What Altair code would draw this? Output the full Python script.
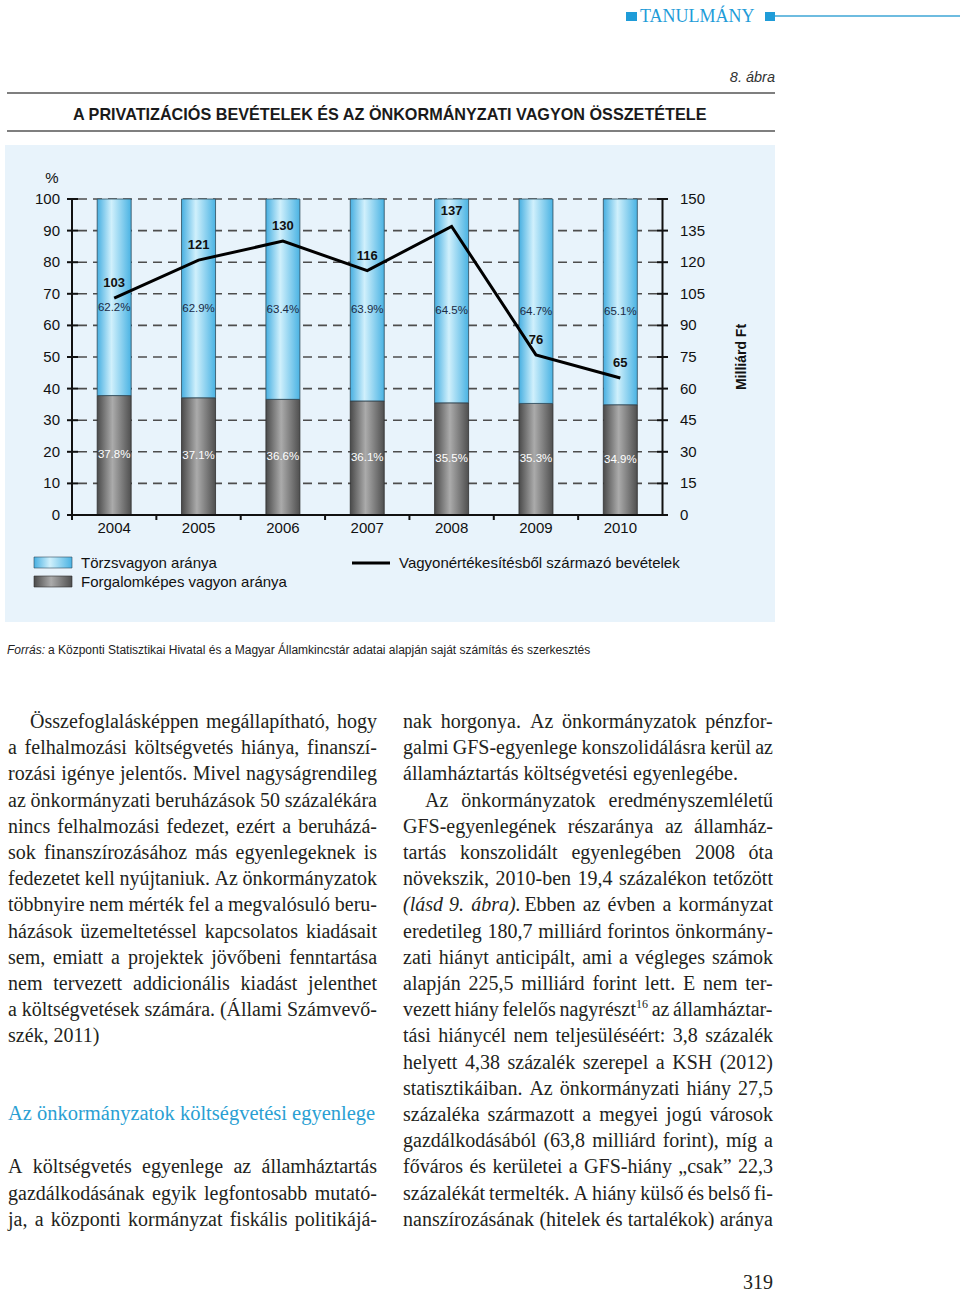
import unicodedata
import altair as alt
import pandas as pd

# ---------------- data ----------------
YEARS = ["2004", "2005", "2006", "2007", "2008", "2009", "2010"]
TORZS = [62.2, 62.9, 63.4, 63.9, 64.5, 64.7, 65.1]          # Törzsvagyon aránya (%)
FORG = [37.8, 37.1, 36.6, 36.1, 35.5, 35.3, 34.9]           # Forgalomképes vagyon aránya (%)
BEVETEL = [103, 121, 130, 116, 137, 76, 65]                 # Vagyonértékesítésből származó bevételek (Mrd Ft)
LEFT_TICKS = [0, 10, 20, 30, 40, 50, 60, 70, 80, 90, 100]
RIGHT_TICKS = [0, 15, 30, 45, 60, 75, 90, 105, 120, 135, 150]

HEADER = "TANULMÁNY"
FIG_NO = "8. ábra"
TITLE = "A PRIVATIZÁCIÓS BEVÉTELEK ÉS AZ ÖNKORMÁNYZATI VAGYON ÖSSZETÉTELE"
LEG_BLUE = "Törzsvagyon aránya"
LEG_GRAY = "Forgalomképes vagyon aránya"
LEG_LINE = "Vagyonértékesítésből származó bevételek"
UNIT_LEFT = "%"
UNIT_RIGHT = "Milliárd Ft"
SOURCE_LABEL = "Forrás:"
SOURCE_TEXT = "a Központi Statisztikai Hivatal és a Magyar Államkincstár adatai alapján saját számítás és szerkesztés"

LEFT_TEXT = [
    "Összefoglalásképpen megállapítható, hogy",
    "a felhalmozási költségvetés hiánya, finanszí-",
    "rozási igénye jelentős. Mivel nagyságrendileg",
    "az önkormányzati beruházások 50 százalékára",
    "nincs felhalmozási fedezet, ezért a beruházá-",
    "sok finanszírozásához más egyenlegeknek is",
    "fedezetet kell nyújtaniuk. Az önkormányzatok",
    "többnyire nem mérték fel a megvalósuló beru-",
    "házások üzemeltetéssel kapcsolatos kiadásait",
    "sem, emiatt a projektek jövőbeni fenntartása",
    "nem tervezett addicionális kiadást jelenthet",
    "a költségvetések számára. (Állami Számvevő-",
    "szék, 2011)",
]
HEADING = "Az önkormányzatok költségvetési egyenlege"
LEFT_TEXT2 = [
    "A költségvetés egyenlege az államháztartás",
    "gazdálkodásának egyik legfontosabb mutató-",
    "ja, a központi kormányzat fiskális politikájá-",
]
RIGHT_TEXT = [
    "nak horgonya. Az önkormányzatok pénzfor-",
    "galmi GFS-egyenlege konszolidálásra kerül az",
    "államháztartás költségvetési egyenlegébe.",
    "Az önkormányzatok eredményszemléletű",
    "GFS-egyenlegének részaránya az államház-",
    "tartás konszolidált egyenlegében 2008 óta",
    "növekszik, 2010-ben 19,4 százalékon tetőzött",
    "(lásd 9. ábra). Ebben az évben a kormányzat",
    "eredetileg 180,7 milliárd forintos önkormány-",
    "zati hiányt anticipált, ami a végleges számok",
    "alapján 225,5 milliárd forint lett. E nem ter-",
    "vezett hiány felelős nagyrészt¹⁶ az államháztar-",
    "tási hiánycél nem teljesüléséért: 3,8 százalék",
    "helyett 4,38 százalék szerepel a KSH (2012)",
    "statisztikáiban. Az önkormányzati hiány 27,5",
    "százaléka származott a megyei jogú városok",
    "gazdálkodásából (63,8 milliárd forint), míg a",
    "főváros és kerületei a GFS-hiány „csak” 22,3",
    "százalékát termelték. A hiány külső és belső fi-",
    "nanszírozásának (hitelek és tartalékok) aránya",
]
ITALIC_SPANS = ["(lásd 9. ábra)."]
PAGE_NO = "319"

# ---------------- styles ----------------
SANS = "Liberation Sans, Arial, sans-serif"
NARROW = "Liberation Sans Narrow, Arial Narrow, Liberation Sans, sans-serif"
SERIF = "Liberation Serif, Times New Roman, serif"
INK = "#231f20"
CYAN = "#1f9cd8"

X_RANGE = [72, 662.5]
Y_RANGE = [515, 199]
xband = alt.Scale(type="band", domain=YEARS, range=X_RANGE, paddingInner=0.597, paddingOuter=0.2985)
xstep = alt.Scale(type="band", domain=YEARS, range=X_RANGE, paddingInner=0, paddingOuter=0)
ypct = alt.Scale(domain=[0, 100], range=Y_RANGE, nice=False, zero=False)
ymft = alt.Scale(domain=[0, 150], range=Y_RANGE, nice=False, zero=False)

BLUE_GRAD = alt.LinearGradient(
    gradient="linear", x1=0, x2=1, y1=0, y2=0,
    stops=[alt.GradientStop(color="#47afe1", offset=0),
           alt.GradientStop(color="#d0f0fc", offset=0.42),
           alt.GradientStop(color="#4ab3e3", offset=1)])
GRAY_GRAD = alt.LinearGradient(
    gradient="linear", x1=0, x2=1, y1=0, y2=0,
    stops=[alt.GradientStop(color="#4a4a4a", offset=0),
           alt.GradientStop(color="#ababab", offset=0.45),
           alt.GradientStop(color="#4f4f4f", offset=1)])

# ---------------- text metrics (Times-compatible) ----------------
TW = {" ": 250, ",": 250, ".": 250, "-": 333, ":": 278, ";": 278, "(": 333, ")": 333,
      "„": 444, "”": 444, "%": 833,
      "A": 722, "B": 667, "C": 667, "D": 722, "E": 611, "F": 556, "G": 722, "H": 722, "I": 333,
      "J": 389, "K": 722, "L": 611, "M": 889, "N": 722, "O": 722, "P": 556, "Q": 722, "R": 667,
      "S": 556, "T": 611, "U": 722, "V": 722, "W": 944, "X": 722, "Y": 722, "Z": 611,
      "a": 444, "b": 500, "c": 444, "d": 500, "e": 444, "f": 333, "g": 500, "h": 500, "i": 278,
      "j": 278, "k": 500, "l": 278, "m": 778, "n": 500, "o": 500, "p": 500, "q": 500, "r": 333,
      "s": 389, "t": 278, "u": 500, "v": 500, "w": 722, "x": 500, "y": 500, "z": 444}
SUP = {"¹": "1", "²": "2", "³": "3", "⁴": "4", "⁵": "5", "⁶": "6", "⁷": "7", "⁸": "8", "⁹": "9", "⁰": "0"}


def char_w(c):
    if c in TW:
        return TW[c]
    base = unicodedata.normalize("NFD", c)[0]
    return TW.get(base, 500)


def layout(lines, x0, x1, y0, lh, fs, last=(), indent=(), ind_px=22):
    roman, ital, sup = [], [], []
    for k, line in enumerate(lines):
        y = y0 + k * lh
        ranges = []
        for sp in ITALIC_SPANS:
            i = line.find(sp)
            if i >= 0:
                ranges.append((i, i + len(sp)))
        words, pos = [], 0
        for w in line.split(" "):
            start = line.index(w, pos)
            pos = start + len(w)
            it = any(a <= start < b for a, b in ranges)
            main = "".join(c for c in w if c not in SUP)
            sp = "".join(SUP[c] for c in w if c in SUP)
            wm = sum(char_w(c) for c in main) * fs / 1000
            ws = sum(char_w(c) for c in sp) * fs * 0.6 / 1000
            words.append((main, sp, it, wm, ws))
        xs = x0 + (ind_px if k in indent else 0)
        total = sum(a[3] + a[4] for a in words)
        if k not in last and len(words) > 1:
            gap = max((x1 - xs - total) / (len(words) - 1), 0.15 * fs)
        else:
            gap = 0.25 * fs
        x = xs
        for main, sp, it, wm, ws in words:
            (ital if it else roman).append((main, round(x, 1), y))
            if sp:
                sup.append((sp, round(x + wm, 1), y - 8))
            x += wm + ws + gap
    return roman, ital, sup


def text_layer(rows, **props):
    d = pd.DataFrame(rows, columns=["t", "x", "y"])
    return alt.Chart(d).mark_text(**props).encode(
        x=alt.X("x:Q", scale=None, axis=None),
        y=alt.Y("y:Q", scale=None, axis=None),
        text="t:N")


def box(x1, x2, y1, y2, **props):
    return alt.Chart(pd.DataFrame({"a": [0]})).mark_rect(**props).encode(
        x=alt.value(x1), x2=alt.value(x2), y=alt.value(y1), y2=alt.value(y2))


def hline(x1, x2, y, **props):
    return alt.Chart(pd.DataFrame({"a": [0]})).mark_rule(**props).encode(
        x=alt.value(x1), x2=alt.value(x2), y=alt.value(y))


layers = []

# ---------------- header ----------------
layers.append(box(626, 637, 12, 21, color=CYAN))
layers.append(box(765, 775, 12, 21, color=CYAN))
layers.append(hline(775, 960, 16, color="#3ea6d6", strokeWidth=1.5))
layers.append(text_layer([(HEADER, 640, 22)], font=SERIF, fontSize=18, color=CYAN, align="left",
                         baseline="alphabetic"))
layers.append(text_layer([(FIG_NO, 775, 82)], font=NARROW, fontSize=14.5, fontStyle="italic",
                         color="#333333", align="right", baseline="alphabetic"))
layers.append(hline(7, 775, 93, color="#555555", strokeWidth=1.5))
layers.append(text_layer([(TITLE, 73, 119.5)], font=NARROW, fontSize=16.2, fontWeight="bold",
                         color="#1a1a1a", align="left", baseline="alphabetic"))
layers.append(hline(7, 775, 131, color="#555555", strokeWidth=1.5))

# ---------------- chart panel ----------------
layers.append(box(5, 775, 145, 622, color="#e8f3fb"))

df = pd.DataFrame({"year": YEARS, "torzs": TORZS, "forg": FORG, "bevetel": BEVETEL})
lt = pd.DataFrame({"v": LEFT_TICKS})
rt = pd.DataFrame({"v": RIGHT_TICKS})

# dashed grid
layers.append(alt.Chart(lt[lt.v > 0]).mark_rule(strokeDash=[9, 6], color="#4d4d4d", strokeWidth=1.6).encode(
    y=alt.Y("v:Q", scale=ypct, axis=None), x=alt.value(78), x2=alt.value(658)))

# bars
layers.append(alt.Chart(df).mark_bar(color=GRAY_GRAD, stroke="#2e2e2e", strokeWidth=0.8).encode(
    x=alt.X("year:O", scale=xband, axis=None),
    y=alt.Y("forg:Q", scale=ypct, axis=None), y2=alt.datum(0)))
layers.append(alt.Chart(df).mark_bar(color=BLUE_GRAD, stroke="#2f4b5c", strokeWidth=0.8).encode(
    x=alt.X("year:O", scale=xband, axis=None),
    y=alt.Y("forg:Q", scale=ypct, axis=None), y2=alt.datum(100)))

# percent labels
layers.append(alt.Chart(df).transform_calculate(
    mid="(datum.forg + 100) / 2", lab="format(datum.torzs, '.1f') + '%'"
).mark_text(font=NARROW, fontSize=11.5, color="#1b2a44", dy=10.5).encode(
    x=alt.X("year:O", scale=xband, axis=None),
    y=alt.Y("mid:Q", scale=ypct, axis=None), text="lab:N"))
layers.append(alt.Chart(df).transform_calculate(
    mid="datum.forg / 2", lab="format(datum.forg, '.1f') + '%'"
).mark_text(font=NARROW, fontSize=11.5, color="#ffffff").encode(
    x=alt.X("year:O", scale=xband, axis=None),
    y=alt.Y("mid:Q", scale=ypct, axis=None), text="lab:N"))

# left axis
layers.append(alt.Chart(pd.DataFrame({"a": [0]})).mark_rule(color="#111111", strokeWidth=2).encode(
    x=alt.value(72), y=alt.Y("a:Q", scale=ypct, axis=None), y2=alt.datum(100)))
layers.append(alt.Chart(lt).mark_rule(color="#111111", strokeWidth=2).encode(
    y=alt.Y("v:Q", scale=ypct, axis=None), x=alt.value(67), x2=alt.value(78)))
layers.append(alt.Chart(lt).mark_text(font=SANS, fontSize=15, color="#111111", align="right",
                                      baseline="middle").encode(
    y=alt.Y("v:Q", scale=ypct, axis=None), x=alt.value(60), text="v:Q"))
layers.append(text_layer([(UNIT_LEFT, 52, 178)], font=SANS, fontSize=15, color="#111111",
                         align="center", baseline="middle"))

# right axis
layers.append(alt.Chart(pd.DataFrame({"a": [0]})).mark_rule(color="#111111", strokeWidth=2).encode(
    x=alt.value(662.5), y=alt.Y("a:Q", scale=ymft, axis=None), y2=alt.datum(150)))
layers.append(alt.Chart(rt).mark_rule(color="#111111", strokeWidth=2).encode(
    y=alt.Y("v:Q", scale=ymft, axis=None), x=alt.value(657), x2=alt.value(668)))
layers.append(alt.Chart(rt).mark_text(font=SANS, fontSize=15, color="#111111", align="left",
                                      baseline="middle").encode(
    y=alt.Y("v:Q", scale=ymft, axis=None), x=alt.value(680), text="v:Q"))
layers.append(text_layer([(UNIT_RIGHT, 742, 357)], font=SANS, fontSize=14, fontWeight="bold",
                         color="#111111", angle=270, align="center", baseline="middle"))

# bottom axis
layers.append(alt.Chart(pd.DataFrame({"a": [0]})).mark_rule(color="#111111", strokeWidth=2).encode(
    y=alt.Y("a:Q", scale=ypct, axis=None), x=alt.value(72), x2=alt.value(662.5)))
layers.append(alt.Chart(df).mark_rule(color="#111111", strokeWidth=2).encode(
    x=alt.X("year:O", scale=xstep, bandPosition=0, axis=None), y=alt.value(515), y2=alt.value(520)))
layers.append(alt.Chart(df).mark_text(font=SANS, fontSize=15, color="#111111", baseline="middle").encode(
    x=alt.X("year:O", scale=xband, axis=None), y=alt.value(528), text="year:N"))

# revenue line
layers.append(alt.Chart(df).mark_line(color="#000000", strokeWidth=3).encode(
    x=alt.X("year:O", scale=xband, bandPosition=0.5, axis=None),
    y=alt.Y("bevetel:Q", scale=ymft, axis=None)))
layers.append(alt.Chart(df).mark_text(font=SANS, fontSize=13, fontWeight="bold", color="#111111",
                                      dy=-15).encode(
    x=alt.X("year:O", scale=xband, bandPosition=0.5, axis=None),
    y=alt.Y("bevetel:Q", scale=ymft, axis=None), text="bevetel:Q"))

# legend
layers.append(box(34, 72, 557, 568, color=BLUE_GRAD, stroke="#2f4b5c", strokeWidth=0.6))
layers.append(box(34, 72, 576, 587, color=GRAY_GRAD, stroke="#2e2e2e", strokeWidth=0.6))
layers.append(hline(352, 390, 563, color="#000000", strokeWidth=3))
layers.append(text_layer([(LEG_BLUE, 81, 563), (LEG_GRAY, 81, 582)], font=SANS, fontSize=15,
                         color="#111111", align="left", baseline="middle"))
layers.append(text_layer([(LEG_LINE, 399, 563)], font=SANS, fontSize=15,
                         color="#111111", align="left", baseline="middle"))

# source
layers.append(text_layer([(SOURCE_LABEL, 7, 654)], font=NARROW, fontSize=12, fontStyle="italic",
                         color="#222222", align="left", baseline="alphabetic"))
layers.append(text_layer([(SOURCE_TEXT, 48, 654)], font=NARROW, fontSize=12,
                         color="#222222", align="left", baseline="alphabetic"))

# ---------------- body text ----------------
FS = 20
LH = 26.2
r1, i1, s1 = layout(LEFT_TEXT, 8, 377, 728, LH, FS, last={len(LEFT_TEXT) - 1}, indent={0})
r2, i2, s2 = layout(LEFT_TEXT2, 8, 377, 728 + 17 * LH, LH, FS)
r3, i3, s3 = layout(RIGHT_TEXT, 403, 773, 728, LH, FS, last={2}, indent={3})
roman = r1 + r2 + r3
ital = i1 + i2 + i3
sup = s1 + s2 + s3
layers.append(text_layer(roman, font=SERIF, fontSize=FS, color=INK, align="left", baseline="alphabetic"))
if ital:
    layers.append(text_layer(ital, font=SERIF, fontSize=FS, fontStyle="italic", color=INK, align="left",
                             baseline="alphabetic"))
if sup:
    layers.append(text_layer(sup, font=SERIF, fontSize=FS * 0.6, color=INK, align="left",
                             baseline="alphabetic"))
layers.append(text_layer([(HEADING, 8, 728 + 15 * LH - 1)], font=SERIF, fontSize=20.5, color="#2a9fd3",
                         align="left", baseline="alphabetic"))
layers.append(text_layer([(PAGE_NO, 773, 1289)], font=SERIF, fontSize=20, color=INK,
                         align="right", baseline="alphabetic"))

chart = alt.layer(*layers).resolve_scale(
    x="independent", y="independent"
).properties(
    width=960, height=1293, autosize="none", padding=0, background="#ffffff"
).configure_view(stroke=None)

chart.save("out.html", embed_options={"renderer": "svg", "actions": False})
